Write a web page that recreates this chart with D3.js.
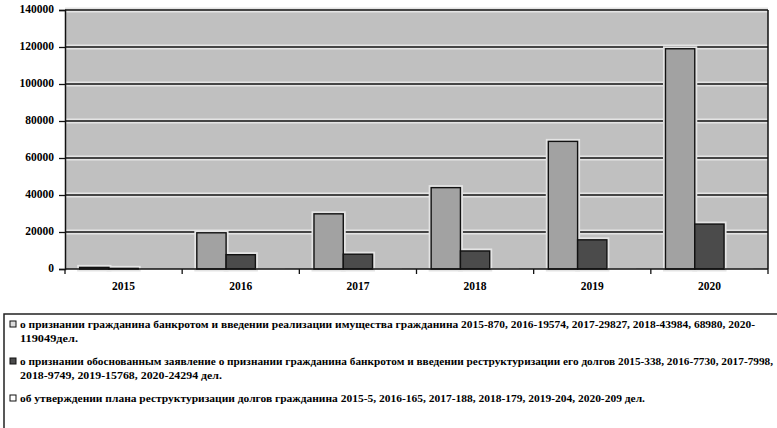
<!DOCTYPE html>
<html lang="ru">
<head>
<meta charset="UTF-8">
<title>Банкротство граждан</title>
<style>
  body { margin: 0; background: #fff; }
  svg text { font-family: "Liberation Serif", "Times New Roman", Times, Tinos, "Noto Serif", "DejaVu Serif", serif !important; font-weight: bold; }
</style>
</head>
<body>
<div id="chart"></div>
<script src="https://d3js.org/d3.v7.min.js"></script>
<script>
// data
const years = ["2015", "2016", "2017", "2018", "2019", "2020"];
const realization = [870, 19574, 29827, 43984, 68980, 119049];
const restructIntro = [338, 7730, 7998, 9749, 15768, 24294];
const planApproved = [5, 165, 188, 179, 204, 209];
const yTicks = [0, 20000, 40000, 60000, 80000, 100000, 120000, 140000];

const seriesColors = ["#a2a2a2", "#4b4b4b", "#ffffff"];
const markerColors = ["#dcdcdc", "#4b4b4b", "#ffffff"];

const legendLines = [
  { text: "о признании гражданина банкротом  и введении реализации имущества гражданина 2015-870, 2016-19574, 2017-29827, 2018-43984, 68980, 2020-", series: 0, len: 735 },
  { text: "119049дел.", series: null, len: 58 },
  { text: "о признании обоснованным заявление о признании гражданина банкротом и введении реструктуризации его долгов 2015-338, 2016-7730, 2017-7998,", series: 1, len: 753 },
  { text: "2018-9749, 2019-15768, 2020-24294 дел.", series: null, len: 202 },
  { text: "об утверждении плана реструктуризации долгов гражданина 2015-5, 2016-165, 2017-188, 2018-179, 2019-204, 2020-209 дел.", series: 2, len: 625 }
];
const lineY = [328, 342, 365, 379, 402];

const W = 777, H = 428;
const plot = { left: 65, right: 768, top: 10, bottom: 269 };
const serif = "'Liberation Serif', 'Times New Roman', Times, Tinos, 'Noto Serif', 'DejaVu Serif', serif";

const svg = d3.select("#chart").append("svg")
  .attr("width", W).attr("height", H)
  .attr("font-family", serif);

const x = d3.scaleBand().domain(years).range([plot.left, plot.right]).padding(0);
const bw = x.bandwidth();
const x1 = d3.scaleBand().domain([0, 1, 2]).range([bw / 8, bw * 7 / 8]).padding(0);
const y = d3.scaleLinear().domain([0, 140000]).range([plot.bottom, plot.top]);

// plot background
svg.append("rect")
  .attr("x", plot.left).attr("y", plot.top)
  .attr("width", plot.right - plot.left).attr("height", plot.bottom - plot.top)
  .attr("fill", "#c0c0c0");

// gridlines with a light halo
const grid = svg.append("g");
grid.selectAll("line.halo").data(yTicks.slice(1)).join("line")
  .attr("class", "halo")
  .attr("x1", plot.left).attr("x2", plot.right)
  .attr("y1", d => y(d)).attr("y2", d => y(d))
  .attr("stroke", "#e4e4e4").attr("stroke-width", 5);
grid.selectAll("line.g").data(yTicks.slice(1)).join("line")
  .attr("class", "g")
  .attr("x1", plot.left).attr("x2", plot.right)
  .attr("y1", d => y(d)).attr("y2", d => y(d))
  .attr("stroke", "#111").attr("stroke-width", 1.5);

// bars
const series = [realization, restructIntro, planApproved];
const bars = [];
series.forEach((vals, s) => {
  vals.forEach((v, i) => bars.push({ year: years[i], s: s, v: v }));
});

const barG = svg.append("g");
barG.selectAll("rect.halo").data(bars.filter(d => d.s < 2)).join("rect")
  .attr("class", "halo")
  .attr("x", d => x(d.year) + x1(d.s))
  .attr("y", d => y(d.v))
  .attr("width", x1.bandwidth())
  .attr("height", d => y(0) - y(d.v))
  .attr("fill", "none").attr("stroke", "#e4e4e4").attr("stroke-width", 5);
barG.selectAll("rect.bar").data(bars).join("rect")
  .attr("class", "bar")
  .attr("x", d => x(d.year) + x1(d.s))
  .attr("y", d => y(d.v))
  .attr("width", x1.bandwidth())
  .attr("height", d => y(0) - y(d.v))
  .attr("fill", d => seriesColors[d.s])
  .attr("stroke", "#111").attr("stroke-width", d => d.s === 2 ? 0 : 1.4);

// right border
svg.append("line")
  .attr("x1", plot.right).attr("x2", plot.right)
  .attr("y1", plot.top).attr("y2", plot.bottom)
  .attr("stroke", "#111").attr("stroke-width", 1.5);

// y axis
const yAxis = svg.append("g")
  .attr("transform", `translate(${plot.left},0)`)
  .call(d3.axisLeft(y).tickValues(yTicks).tickSize(6).tickPadding(5).tickFormat(d3.format("d")));
yAxis.attr("font-family", serif);
yAxis.select(".domain").attr("stroke", "#111").attr("stroke-width", 1.5);
yAxis.selectAll(".tick line").attr("stroke", "#111").attr("stroke-width", 1.3);
yAxis.selectAll("text")
  .attr("font-weight", "bold")
  .attr("font-size", 11.5).attr("fill", "#000").attr("dy", "0.2em");

// x axis: ticks on category boundaries
svg.append("line")
  .attr("x1", plot.left).attr("x2", plot.right)
  .attr("y1", plot.bottom).attr("y2", plot.bottom)
  .attr("stroke", "#111").attr("stroke-width", 1.5);
svg.append("g").selectAll("line").data(years.concat(["end"])).join("line")
  .attr("x1", (d, i) => plot.left + i * bw).attr("x2", (d, i) => plot.left + i * bw)
  .attr("y1", plot.bottom).attr("y2", plot.bottom + 5)
  .attr("stroke", "#111").attr("stroke-width", 1.3);
svg.append("g").selectAll("text").data(years).join("text")
  .attr("x", d => x(d) + bw / 2)
  .attr("y", 290)
  .attr("text-anchor", "middle")
  .attr("font-size", 11.5)
  .text(d => d);

// legend box
svg.append("rect")
  .attr("x", 4).attr("y", 314)
  .attr("width", 800).attr("height", 140)
  .attr("fill", "#fff").attr("stroke", "#222").attr("stroke-width", 1.5);

const leg = svg.append("g");
legendLines.forEach((l, i) => {
  if (l.series !== null) {
    leg.append("rect")
      .attr("x", 10).attr("y", lineY[i] - 7)
      .attr("width", 6).attr("height", 6)
      .attr("fill", markerColors[l.series])
      .attr("stroke", "#111").attr("stroke-width", 1);
  }
  leg.append("text")
    .attr("x", 20).attr("y", lineY[i])
    .attr("font-size", 11)
    .attr("textLength", l.len)
    .attr("lengthAdjust", "spacingAndGlyphs")
    .text(l.text);
});
</script>
</body>
</html>
